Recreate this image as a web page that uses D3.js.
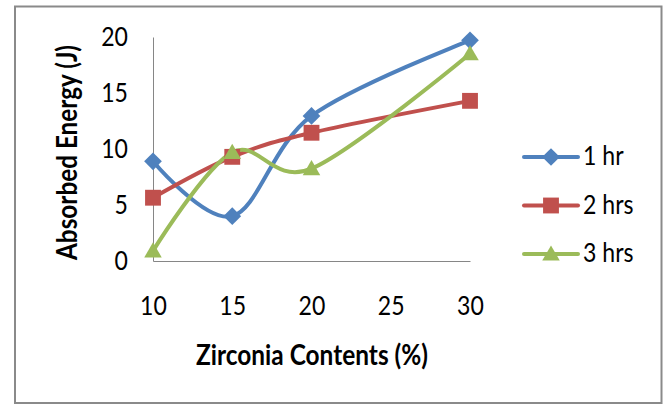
<!DOCTYPE html>
<html>
<head>
<meta charset="utf-8">
<script src="https://cdn.jsdelivr.net/npm/d3@7"></script>
<style>
  html, body { margin: 0; padding: 0; background: #fff; }
  svg { display: block; }
  text { font-family: Lato, "Open Sans", sans-serif; fill: #000; }
</style>
</head>
<body>
<svg id="chart" width="669" height="404"></svg>
<script>
// Zirconia content (%) on the x axis
const zirconia = [10, 15, 20, 30];
const xTicks = [10, 15, 20, 25, 30];
const yTicks = [0, 5, 10, 15, 20];

// Absorbed energy (J) per heat-treatment time
const energy1hr  = [8.9, 4.0, 12.95, 19.7];
const energy2hrs = [5.65, 9.3, 11.45, 14.3];
const energy3hrs = [0.9, 9.7, 8.25, 18.5];

const seriesNames = ["1 hr", "2 hrs", "3 hrs"];
const seriesColors = ["#4F81BD", "#C0504D", "#9BBB59"];
const seriesShapes = ["diamond", "square", "triangle"];

const series = [energy1hr, energy2hrs, energy3hrs].map((vals, i) => ({
  name: seriesNames[i],
  color: seriesColors[i],
  shape: seriesShapes[i],
  points: vals.map((v, j) => ({ x: zirconia[j], y: v }))
}));

const svg = d3.select("#chart");

// outer frame
svg.append("rect")
  .attr("x", 15).attr("y", 6.5)
  .attr("width", 646.5).attr("height", 396.5)
  .attr("fill", "none")
  .attr("stroke", "#8a8a8a")
  .attr("stroke-width", 2);

const x = d3.scaleLinear().domain([10, 30]).range([153, 470]);
const y = d3.scaleLinear().domain([0, 20]).range([261, 37]);

const hScale = 0.87; // narrow the glyphs horizontally
function squeeze(sel, factor) {
  sel.each(function () {
    const w = this.getComputedTextLength();
    d3.select(this).attr("textLength", w * factor).attr("lengthAdjust", "spacingAndGlyphs");
  });
}

// axes
const yAxis = svg.append("g")
  .attr("transform", `translate(${x(10)},0)`)
  .call(d3.axisLeft(y).tickValues(yTicks).tickSize(0).tickPadding(25).tickFormat(d3.format("d")));
const xAxis = svg.append("g")
  .attr("transform", `translate(0,${y(0)})`)
  .call(d3.axisBottom(x).tickValues(xTicks).tickSize(0).tickPadding(35).tickFormat(d3.format("d")));

[yAxis, xAxis].forEach(g => {
  g.select(".domain").attr("stroke", "#868686").attr("stroke-width", 1);
  g.selectAll("text")
    .attr("font-family", "Lato, 'Open Sans', sans-serif")
    .attr("font-size", 26.5)
    .attr("fill", "#000");
  squeeze(g.selectAll("text"), hScale);
});

// axis titles
const xTitle = svg.append("text")
  .attr("x", 312).attr("y", 365)
  .attr("text-anchor", "middle")
  .attr("font-size", 28)
  .attr("font-weight", "bold")
  .text("Zirconia Contents (%)");
xTitle.attr("textLength", 232).attr("lengthAdjust", "spacingAndGlyphs");

const yTitle = svg.append("text")
  .attr("transform", "translate(77,152.5) rotate(-90)")
  .attr("text-anchor", "middle")
  .attr("font-size", 28)
  .attr("font-weight", "bold")
  .text("Absorbed Energy (J)");
yTitle.attr("textLength", 215).attr("lengthAdjust", "spacingAndGlyphs");

// marker shapes
const symbolFor = {
  diamond: d3.symbol().type(d3.symbolDiamond2).size(200),
  square: d3.symbol().type(d3.symbolSquare2).size(320),
  triangle: d3.symbol().type(d3.symbolTriangle2).size(220)
};

const line = d3.line()
  .x(d => x(d.x))
  .y(d => y(d.y))
  .curve(d3.curveCatmullRom.alpha(0));

const plot = svg.append("g");
series.forEach(s => {
  plot.append("path")
    .datum(s.points)
    .attr("d", line)
    .attr("fill", "none")
    .attr("stroke", s.color)
    .attr("stroke-width", 4)
    .attr("stroke-linejoin", "round")
    .attr("stroke-linecap", "round");
});
series.forEach(s => {
  plot.selectAll(null)
    .data(s.points)
    .join("path")
    .attr("transform", d => `translate(${x(d.x)},${y(d.y) + (s.shape === "triangle" ? 1.5 : 0)})`)
    .attr("d", symbolFor[s.shape])
    .attr("fill", s.color);
});

// legend
const legend = svg.append("g");
const legendY = [157, 205.5, 254];
series.forEach((s, i) => {
  const g = legend.append("g").attr("transform", `translate(0,${legendY[i]})`);
  g.append("line")
    .attr("x1", 524).attr("x2", 578)
    .attr("stroke", s.color).attr("stroke-width", 4)
    .attr("stroke-linecap", "round");
  g.append("path")
    .attr("transform", `translate(551,${s.shape === "triangle" ? 1.5 : 0})`)
    .attr("d", symbolFor[s.shape])
    .attr("fill", s.color);
  const t = g.append("text")
    .attr("x", 583).attr("dy", "0.32em")
    .attr("font-size", 26.5)
    .text(s.name);
  squeeze(t, hScale);
});
</script>
</body>
</html>
